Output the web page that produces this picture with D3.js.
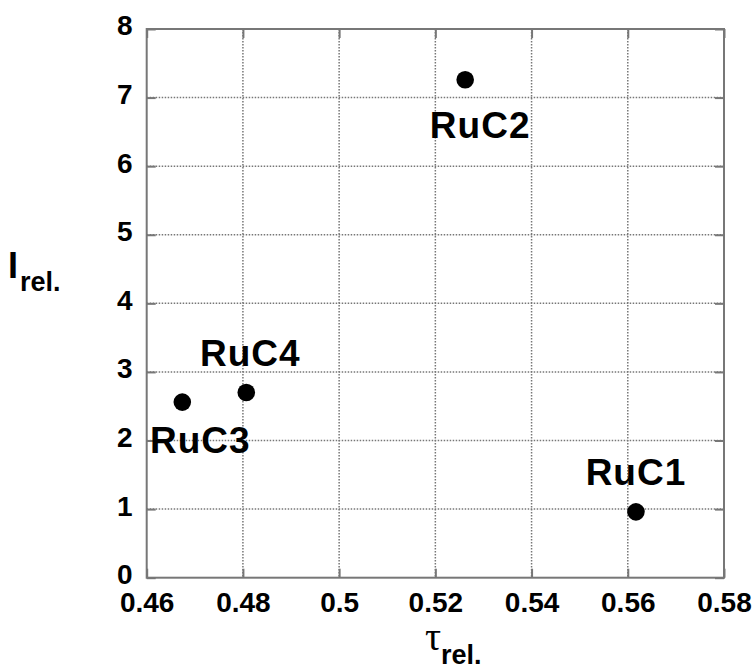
<!DOCTYPE html>
<html>
<head>
<meta charset="utf-8">
<script src="https://cdn.jsdelivr.net/npm/d3@7/dist/d3.min.js"></script>
<style>
  body { margin: 0; background: #fff; }
  svg text { font-family: "Liberation Sans", Arial, Helvetica, sans-serif; font-weight: bold; fill: #000; }
  .grid line { stroke: #777; stroke-width: 1.5; stroke-dasharray: 1.5,1.5; }
  .axis line { stroke: #777; stroke-width: 2; }
  .axis path { display: none; }
</style>
</head>
<body>
<svg width="756" height="669"></svg>
<script>
// data
var names = ["RuC1", "RuC2", "RuC3", "RuC4"];
var tau = [0.5617, 0.5262, 0.4674, 0.4807];
var irel = [0.96, 7.26, 2.56, 2.70];

var xTicks = [0.46, 0.48, 0.5, 0.52, 0.54, 0.56, 0.58];
var xTickLabels = ["0.46", "0.48", "0.5", "0.52", "0.54", "0.56", "0.58"];
var yTicks = [0, 1, 2, 3, 4, 5, 6, 7, 8];

// label offsets (px) relative to each dot
var labelDx = [0, 15, 18, 4];
var labelDy = [-27, 58, 51, -27];

var mLeft = 146.7, mTop = 29, mRight = 724, mBottom = 577.7;

var svg = d3.select("svg");

var x = d3.scaleLinear().domain([0.46, 0.58]).range([mLeft, mRight]);
var y = d3.scaleLinear().domain([0, 8]).range([mBottom, mTop]);

// grid
var grid = svg.append("g").attr("class", "grid");
grid.selectAll(".gx")
  .data(xTicks.slice(1, -1))
  .enter().append("line")
  .attr("x1", d => x(d)).attr("x2", d => x(d))
  .attr("y1", mTop).attr("y2", mBottom);
grid.selectAll(".gy")
  .data(yTicks.slice(1, -1))
  .enter().append("line")
  .attr("x1", mLeft).attr("x2", mRight)
  .attr("y1", d => y(d)).attr("y2", d => y(d));

// axes, ticks pointing inward
var xAxis = svg.append("g").attr("class", "axis")
  .attr("transform", "translate(0," + mBottom + ")")
  .call(d3.axisBottom(x).tickValues(xTicks)
    .tickFormat((d, i) => xTickLabels[i])
    .tickSizeInner(-9).tickSizeOuter(0).tickPadding(14));
xAxis.selectAll("text").style("font-size", "28px");

svg.append("g").attr("class", "axis")
  .attr("transform", "translate(0," + mTop + ")")
  .call(d3.axisTop(x).tickValues(xTicks).tickFormat("")
    .tickSizeInner(-9).tickSizeOuter(0));

var yAxis = svg.append("g").attr("class", "axis")
  .attr("transform", "translate(" + mLeft + ",0)")
  .call(d3.axisLeft(y).tickValues(yTicks)
    .tickSizeInner(-9).tickSizeOuter(0).tickPadding(14));
yAxis.selectAll("text").style("font-size", "28px").attr("dy", "0.21em");

svg.append("g").attr("class", "axis")
  .attr("transform", "translate(" + mRight + ",0)")
  .call(d3.axisRight(y).tickValues(yTicks).tickFormat("")
    .tickSizeInner(-9).tickSizeOuter(0));

// frame
svg.append("rect")
  .attr("x", mLeft).attr("y", mTop)
  .attr("width", mRight - mLeft).attr("height", mBottom - mTop)
  .attr("fill", "none").attr("stroke", "#777").attr("stroke-width", 2);

// points
var pts = names.map((n, i) => ({ name: n, t: tau[i], v: irel[i], dx: labelDx[i], dy: labelDy[i] }));

svg.selectAll(".dot")
  .data(pts)
  .enter().append("circle")
  .attr("cx", d => x(d.t)).attr("cy", d => y(d.v))
  .attr("r", 8.8).attr("fill", "#000");

svg.selectAll(".lbl")
  .data(pts)
  .enter().append("text")
  .attr("x", d => x(d.t) + d.dx).attr("y", d => y(d.v) + d.dy)
  .attr("text-anchor", "middle")
  .style("font-size", "37px")
  .style("letter-spacing", "1px")
  .text(d => d.name);

// axis titles
var xt = svg.append("text").attr("x", 425).attr("y", 650);
xt.append("tspan").text("τ")
  .style("font-family", "'Liberation Serif', 'Times New Roman', serif")
  .style("font-weight", "normal").style("font-size", "40px");
xt.append("tspan").text("rel.").attr("y", 664).attr("dx", 0).style("font-size", "27px");

var yt = svg.append("text").attr("x", 8).attr("y", 278);
yt.append("tspan").text("I").style("font-size", "36px");
yt.append("tspan").text("rel.").attr("y", 291).attr("dx", 2).style("font-size", "27px");
</script>
</body>
</html>
